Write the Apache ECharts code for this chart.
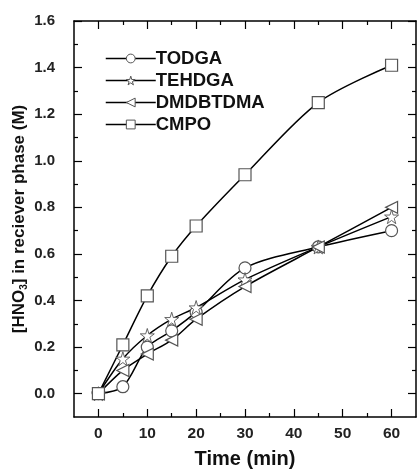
<!DOCTYPE html>
<html>
<head>
<meta charset="utf-8">
<script src="https://cdn.jsdelivr.net/npm/echarts@6/dist/echarts.min.js"></script>
<style>
    html, body { margin: 0; padding: 0; background: #fff; }
    #chart { width: 418px; height: 469px; }
</style>
</head>
<body>
<div id="chart"></div>
<script>
// 数据
var times = [0, 5, 10, 15, 20, 30, 45, 60];
var todga = [0, 0.03, 0.20, 0.27, 0.35, 0.54, 0.63, 0.70];
var tehdga = [0, 0.15, 0.25, 0.32, 0.37, 0.49, 0.63, 0.76];
var dmdbtdma = [0, 0.10, 0.17, 0.23, 0.32, 0.46, 0.63, 0.80];
var cmpo = [0, 0.21, 0.42, 0.59, 0.72, 0.94, 1.25, 1.41];

var xMajor = [0, 10, 20, 30, 40, 50, 60];
var xMinor = [5, 15, 25, 35, 45, 55];
var yMajor = [0, 0.2, 0.4, 0.6, 0.8, 1.0, 1.2, 1.4, 1.6];
var yMinor = [0.1, 0.3, 0.5, 0.7, 0.9, 1.1, 1.3, 1.5];

var starPath = 'path://M50,0 L61,35 L98,35 L68,57 L79,91 L50,70 L21,91 L32,57 L2,35 L39,35 Z';

function pairs(ys) {
    return times.map(function(t, i) { return [t, ys[i]]; });
}

var fontFamily = 'Liberation Sans, Arial, sans-serif';

function xAxisOf(pos, ticks, len, showLabel, showLine) {
    return {
        type: 'value',
        position: pos,
        min: -5,
        max: 65,
        axisLine: { show: showLine, onZero: false, lineStyle: { color: '#000', width: 1.5 } },
        axisTick: { inside: true, length: len, customValues: ticks, lineStyle: { color: '#000', width: 1.2 } },
        axisLabel: showLabel ? {
            customValues: ticks,
            margin: 9,
            color: '#222',
            fontSize: 15.5,
            fontWeight: 'bold',
            fontFamily: fontFamily
        } : { show: false },
        splitLine: { show: false }
    };
}

function yAxisOf(pos, ticks, len, showLabel, showLine) {
    return {
        type: 'value',
        position: pos,
        min: -0.1,
        max: 1.6,
        axisLine: { show: showLine, onZero: false, lineStyle: { color: '#000', width: 1.5 } },
        axisTick: { inside: true, length: len, customValues: ticks, lineStyle: { color: '#000', width: 1.2 } },
        axisLabel: showLabel ? {
            customValues: ticks,
            margin: 19,
            color: '#222',
            fontSize: 15,
            fontWeight: 'bold',
            fontFamily: fontFamily,
            formatter: function(v) { return v.toFixed(1); }
        } : { show: false },
        splitLine: { show: false }
    };
}

function makeSeries(name, ys, symbol, rotate, border, size) {
    return {
        name: name,
        type: 'line',
        data: pairs(ys),
        smooth: 0.3,
        symbol: symbol,
        symbolSize: size || 12,
        symbolRotate: rotate || 0,
        showAllSymbol: true,
        xAxisIndex: 0,
        yAxisIndex: 0,
        lineStyle: { color: '#000', width: 1.5 },
        itemStyle: { color: '#fff', borderColor: '#555', borderWidth: border || 1.2 },
        emphasis: { disabled: true }
    };
}

var char = echarts.init(document.getElementById('chart'));
var option = {
    animation: false,
    backgroundColor: '#fff',
    grid: { left: 74, right: 2, top: 21, bottom: 52, outerBoundsMode: 'none' },
    legend: {
        orient: 'vertical',
        left: 105,
        top: 49,
        padding: 0,
        itemWidth: 50,
        itemHeight: 11,
        itemGap: 3,
        itemStyle: { color: '#fff', borderColor: '#555', borderWidth: 1 },
        lineStyle: { color: '#000', width: 1.5 },
        textStyle: { color: '#111', fontSize: 18.5, fontWeight: 'bold', fontFamily: fontFamily, padding: [0, 0, 0, -5] },
        data: ['TODGA', 'TEHDGA', 'DMDBTDMA', 'CMPO']
    },
    xAxis: [
        (function() {
            var a = xAxisOf('bottom', xMajor, 8, true, true);
            a.name = 'Time (min)';
            a.nameLocation = 'middle';
            a.nameGap = 32;
            a.nameMoveOverlap = false;
            a.nameTextStyle = { color: '#111', fontSize: 20, fontWeight: 'bold', fontFamily: fontFamily };
            return a;
        })(),
        xAxisOf('bottom', xMinor, 4, false, false),
        xAxisOf('top', xMajor, 8, false, true),
        xAxisOf('top', xMinor, 4, false, false)
    ],
    yAxis: [
        (function() {
            var a = yAxisOf('left', yMajor, 8, true, true);
            a.name = '[HNO{sub|3}] in reciever phase (M)';
            a.nameLocation = 'middle';
            a.nameGap = 45;
            a.nameMoveOverlap = false;
            a.nameTextStyle = {
                color: '#111', fontSize: 17, fontWeight: 'bold', fontFamily: fontFamily,
                rich: {
                    sub: { fontSize: 10, fontWeight: 'bold', fontFamily: fontFamily, color: '#111', padding: [10, 0, 0, 0] }
                }
            };
            return a;
        })(),
        yAxisOf('left', yMinor, 4, false, false),
        yAxisOf('right', yMajor, 8, false, true),
        yAxisOf('right', yMinor, 4, false, false)
    ],
    series: [
        makeSeries('TODGA', todga, 'circle'),
        makeSeries('TEHDGA', tehdga, starPath, 0, 0.9, 14),
        makeSeries('DMDBTDMA', dmdbtdma, 'triangle', 90),
        makeSeries('CMPO', cmpo, 'rect')
    ]
};
char.setOption(option);
</script>
</body>
</html>
